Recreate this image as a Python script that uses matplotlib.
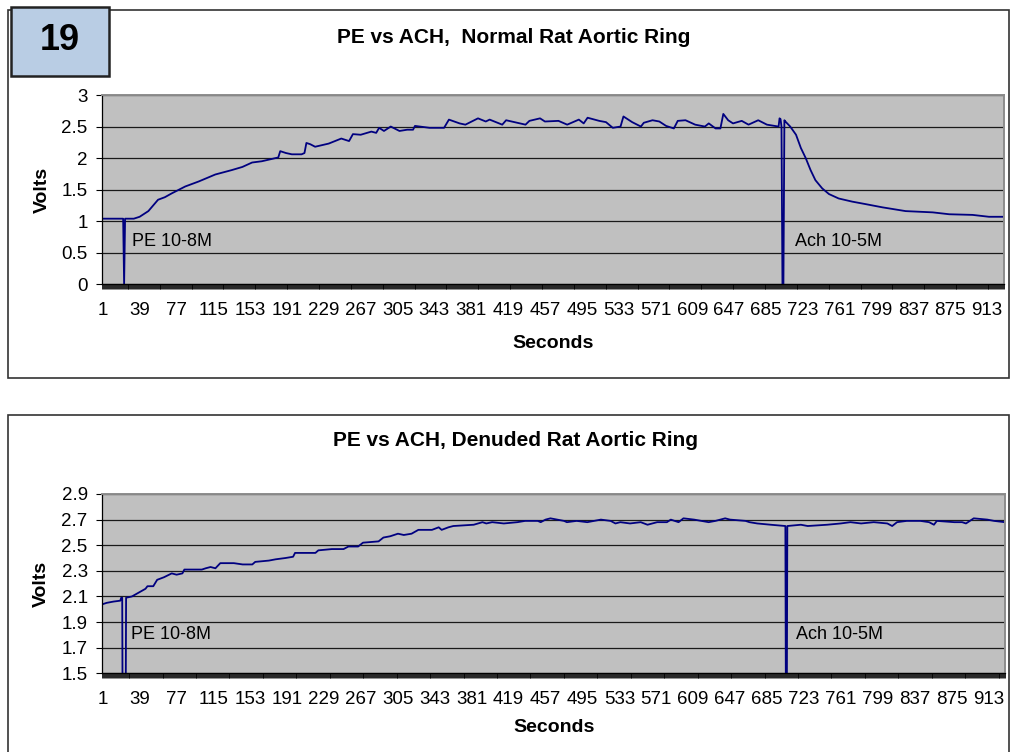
import numpy as np
import matplotlib
matplotlib.use("Agg")
import matplotlib.pyplot as plt
from matplotlib.patches import Rectangle

plt.rcParams['font.family'] = ['Liberation Sans', 'DejaVu Sans']

# number of one-second samples on the category axis
n_cat = 930
tick_labels = list(range(1, n_cat + 1, 38))

# top chart: normal ring (sample number, volts)
normal_sec = [1, 22, 23, 24, 33, 39, 48, 58, 65, 72, 86, 100, 117, 134, 145, 155, 165,
              182, 184, 190, 196, 206, 209, 211, 215, 220, 234, 247, 255, 259, 267,
              278, 283, 286, 291, 298, 307, 315, 321, 323, 338, 353, 358, 369, 375,
              388, 396, 400, 413, 417, 437, 441, 452, 457, 471, 480, 492, 497, 501,
              513, 520, 527, 535, 538, 547, 556, 559, 568, 575, 582, 590, 594, 602,
              612, 622, 626, 633, 638, 641, 646, 651, 660, 667, 677, 686, 698, 699,
              700, 701, 702, 703, 704, 705, 710, 716, 721, 726, 731, 736, 743, 750,
              760, 774, 788, 805, 829, 857, 874, 898, 915, 930]
normal_volts = [1.04, 1.04, 0.0, 1.04, 1.04, 1.07, 1.16, 1.34, 1.38, 1.44, 1.55, 1.63,
                1.74, 1.81, 1.86, 1.93, 1.95, 2.01, 2.11, 2.08, 2.06, 2.06, 2.08, 2.24,
                2.22, 2.18, 2.23, 2.31, 2.27, 2.38, 2.37, 2.42, 2.40, 2.48, 2.43, 2.50,
                2.43, 2.45, 2.45, 2.51, 2.48, 2.48, 2.61, 2.55, 2.53, 2.63, 2.58, 2.61,
                2.53, 2.60, 2.53, 2.59, 2.63, 2.58, 2.59, 2.53, 2.61, 2.55, 2.64, 2.59,
                2.57, 2.48, 2.50, 2.66, 2.57, 2.50, 2.56, 2.60, 2.58, 2.51, 2.47, 2.59,
                2.60, 2.53, 2.50, 2.55, 2.47, 2.47, 2.70, 2.60, 2.55, 2.59, 2.53, 2.60,
                2.53, 2.50, 2.63, 2.62, 2.50, 0.0, 0.0, 2.60, 2.58, 2.50, 2.37, 2.16,
                2.00, 1.81, 1.65, 1.52, 1.43, 1.36, 1.31, 1.27, 1.22, 1.16, 1.14, 1.11,
                1.10, 1.07, 1.07]

# bottom chart: denuded ring
denuded_sec = [1, 5, 12, 19, 20, 21, 22, 24, 25, 31, 38, 45, 47, 53, 57, 64, 72, 77, 83,
               85, 103, 107, 112, 117, 122, 131, 136, 145, 155, 158, 172, 179, 189, 197,
               199, 220, 223, 237, 249, 254, 264, 269, 285, 290, 297, 305, 311, 319, 326,
               340, 347, 350, 357, 362, 383, 392, 396, 402, 414, 428, 436, 449, 452, 457,
               462, 476, 479, 489, 500, 514, 524, 529, 534, 544, 555, 562, 572, 582, 586,
               594, 599, 610, 625, 632, 642, 647, 663, 667, 675, 689, 704, 705, 706, 720,
               727, 747, 761, 771, 782, 795, 809, 814, 819, 829, 843, 852, 857, 860, 878,
               886, 890, 898, 912, 919, 930]
denuded_volts = [2.04, 2.05, 2.06, 2.067, 2.09, 2.09, 0.0, 0.0, 2.09, 2.10, 2.13, 2.16,
                 2.18, 2.18, 2.23, 2.25, 2.28, 2.27, 2.28, 2.31, 2.31, 2.32, 2.33, 2.32,
                 2.36, 2.36, 2.36, 2.35, 2.35, 2.37, 2.38, 2.39, 2.40, 2.41, 2.44, 2.44,
                 2.46, 2.47, 2.47, 2.49, 2.49, 2.52, 2.53, 2.56, 2.57, 2.59, 2.58, 2.59,
                 2.62, 2.62, 2.64, 2.62, 2.64, 2.65, 2.66, 2.68, 2.67, 2.68, 2.67, 2.68,
                 2.69, 2.69, 2.68, 2.70, 2.71, 2.69, 2.68, 2.69, 2.68, 2.70, 2.69, 2.67,
                 2.68, 2.67, 2.68, 2.66, 2.68, 2.68, 2.70, 2.68, 2.71, 2.70, 2.68, 2.69,
                 2.71, 2.70, 2.69, 2.68, 2.67, 2.66, 2.65, 0.0, 2.65, 2.66, 2.65, 2.66,
                 2.67, 2.68, 2.67, 2.68, 2.67, 2.65, 2.68, 2.69, 2.69, 2.68, 2.66, 2.69,
                 2.68, 2.68, 2.67, 2.71, 2.70, 2.69, 2.68]

W, H = 1010, 752
fig = plt.figure(figsize=(W / 100, H / 100), dpi=100)


def fx(px):
    return px / W


def fy(py):
    return 1 - py / H


def style_axes(ax, yticks, ylim):
    ax.set_facecolor('#c0c0c0')
    ax.set_xlim(0.5, n_cat + 0.5)
    ax.set_ylim(*ylim)
    ax.set_yticks(yticks)
    ax.set_yticklabels([f'{v:g}' for v in yticks])
    ax.set_xticks(tick_labels)
    ax.set_xticklabels([str(t) for t in tick_labels])
    ax.set_xticks(np.arange(0.5, n_cat + 1), minor=True)
    ax.tick_params(axis='x', which='major', length=0, pad=13, labelsize=13.5)
    ax.tick_params(axis='x', which='minor', length=3.5, width=0.6, color='black')
    ax.tick_params(axis='y', which='major', length=4, width=0.8, pad=6.5, labelsize=13.5)
    ax.yaxis.grid(True, color='#1a1a1a', lw=0.9)
    ax.set_axisbelow(True)
    for s in ('top', 'right'):
        ax.spines[s].set_color('#8c8c8c')
        ax.spines[s].set_linewidth(1.4)
    for s in ('left', 'bottom'):
        ax.spines[s].set_color('black')
        ax.spines[s].set_linewidth(0.9)


# outer chart frames
fig.patches.append(Rectangle((fx(8), fy(377.5)), fx(1001), 367.5 / H, fill=False,
                             ec='#333333', lw=1.2, transform=fig.transFigure))
fig.patches.append(Rectangle((fx(8), fy(760)), fx(1001), 345 / H, fill=False,
                             ec='#333333', lw=1.2, transform=fig.transFigure))

# top chart
ax1 = fig.add_axes([fx(102.3), fy(284.3), fx(901.7), 189.3 / H])
style_axes(ax1, [0, 0.5, 1, 1.5, 2, 2.5, 3], (0, 3))
ax1.plot(normal_sec, normal_volts, color='#000080', lw=1.3)
ax1.text(31, 0.607, 'PE 10-8M', fontsize=13, va='baseline')
ax1.text(715, 0.607, 'Ach 10-5M', fontsize=13, va='baseline')
ax1.set_xlabel('Seconds', fontsize=14, fontweight='bold', va='center')
ax1.xaxis.set_label_coords(0.5, -0.314)
ax1.set_ylabel('Volts', fontsize=14, fontweight='bold', va='center', ha='center')
ax1.yaxis.set_label_coords(-0.0663, 0.50)
fig.text(fx(514), fy(37.5), 'PE vs ACH,  Normal Rat Aortic Ring', fontsize=15,
         fontweight='bold', ha='center', va='center')

# bottom chart
ax2 = fig.add_axes([fx(102.3), fy(673.3), fx(903), 179.3 / H])
style_axes(ax2, [1.5, 1.7, 1.9, 2.1, 2.3, 2.5, 2.7, 2.9], (1.5, 2.9))
ax2.plot(denuded_sec, denuded_volts, color='#000080', lw=1.3)
ax2.text(30, 1.765, 'PE 10-8M', fontsize=13, va='baseline')
ax2.text(715, 1.765, 'Ach 10-5M', fontsize=13, va='baseline')
ax2.set_xlabel('Seconds', fontsize=14, fontweight='bold', va='center')
ax2.xaxis.set_label_coords(0.5, -0.305)
ax2.set_ylabel('Volts', fontsize=14, fontweight='bold', va='center', ha='center')
ax2.yaxis.set_label_coords(-0.068, 0.50)
fig.text(fx(515.5), fy(441), 'PE vs ACH, Denuded Rat Aortic Ring', fontsize=15,
         fontweight='bold', ha='center', va='center')

# figure number badge
fig.patches.append(Rectangle((fx(10.7), fy(76)), fx(98.6), 68.7 / H, fc='#b9cde4',
                             ec='#222222', lw=1.8, transform=fig.transFigure, zorder=5))
fig.text(fx(60), fy(40), '19', fontsize=26, fontweight='bold', ha='center',
         va='center', zorder=6)

fig.savefig('out.png', dpi=100)
